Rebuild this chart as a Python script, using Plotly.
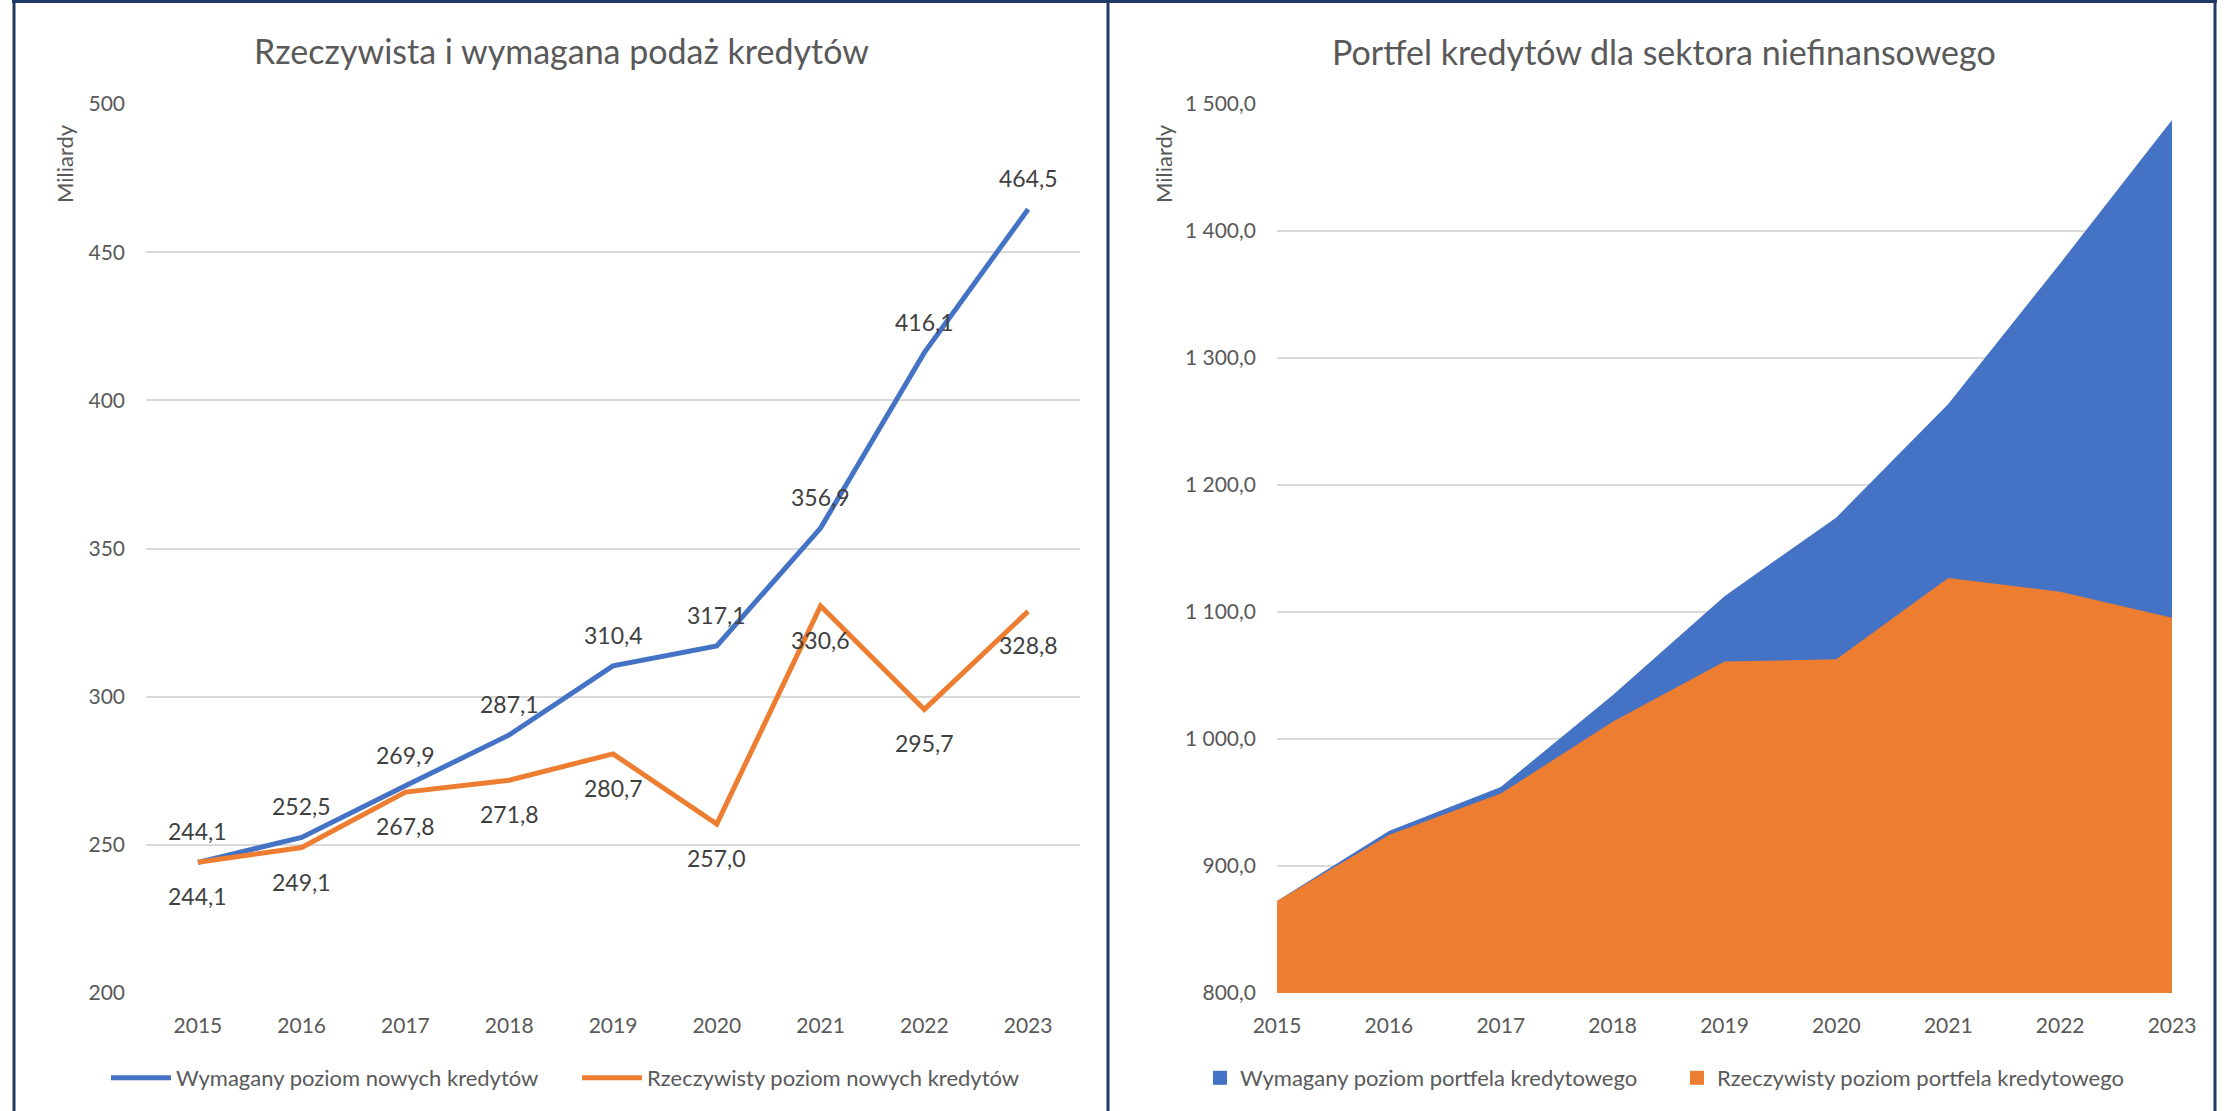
import plotly.graph_objects as go

W, H = 2238, 1111

years = [2015, 2016, 2017, 2018, 2019, 2020, 2021, 2022, 2023]

# Left chart: new loans (billions)
required_new = [244.1, 252.5, 269.9, 287.1, 310.4, 317.1, 356.9, 416.1, 464.5]
actual_new = [244.1, 249.1, 267.8, 271.8, 280.7, 257.0, 330.6, 295.7, 328.8]

# Right chart: loan portfolio (billions)
required_portfolio = [872.4, 927.5, 962.2, 1034.5, 1112.5, 1174.5, 1263.8, 1374.5, 1487.5]
actual_portfolio = [872.4, 924.4, 957.0, 1013.5, 1061.0, 1062.7, 1126.8, 1116.0, 1095.5]

left_yticks = [200, 250, 300, 350, 400, 450, 500]
right_yticks = [800, 900, 1000, 1100, 1200, 1300, 1400, 1500]
right_yticklabels = ["800,0", "900,0", "1 000,0", "1 100,0", "1 200,0", "1 300,0", "1 400,0", "1 500,0"]

title_left = "Rzeczywista i wymagana podaż kredytów"
title_right = "Portfel kredytów dla sektora niefinansowego"
name_req_new = "Wymagany poziom nowych kredytów"
name_act_new = "Rzeczywisty poziom nowych kredytów"
name_req_port = "Wymagany poziom portfela kredytowego"
name_act_port = "Rzeczywisty poziom portfela kredytowego"

BLUE = "#4472C4"
ORANGE = "#ED7D31"
TXT = "#595959"
LBL = "#404040"
GRID = "#D9D9D9"
NAVY = "#1F3864"
FONT = "Lato"

def px(x):
    return x / W

def py(y):
    return 1 - y / H

fig = go.Figure()

# Left chart lines
fig.add_trace(go.Scatter(x=years, y=required_new, mode="lines", name=name_req_new,
                         line=dict(color=BLUE, width=5), xaxis="x", yaxis="y", legend="legend"))
fig.add_trace(go.Scatter(x=years, y=actual_new, mode="lines", name=name_act_new,
                         line=dict(color=ORANGE, width=5), xaxis="x", yaxis="y", legend="legend2"))

# Right chart areas (overlapping, not stacked)
fig.add_trace(go.Scatter(x=years, y=required_portfolio, mode="lines", name=name_req_port,
                         fill="tozeroy", fillcolor=BLUE, line=dict(color=BLUE, width=0),
                         xaxis="x2", yaxis="y2", showlegend=False))
fig.add_trace(go.Scatter(x=years, y=actual_portfolio, mode="lines", name=name_act_port,
                         fill="tozeroy", fillcolor=ORANGE, line=dict(color=ORANGE, width=0),
                         xaxis="x2", yaxis="y2", showlegend=False))
# Legend entries for areas (square symbols)
fig.add_trace(go.Scatter(x=[None], y=[None], mode="markers", name=name_req_port,
                         marker=dict(symbol="square", size=14, color=BLUE),
                         xaxis="x2", yaxis="y2", legend="legend3"))
fig.add_trace(go.Scatter(x=[None], y=[None], mode="markers", name=name_act_port,
                         marker=dict(symbol="square", size=14, color=ORANGE),
                         xaxis="x2", yaxis="y2", legend="legend4"))

def fmt(v):
    return f"{v:.1f}".replace(".", ",")

annotations = []
for xv, yv in zip(years, required_new):
    annotations.append(dict(x=xv, y=yv, xref="x", yref="y", text=fmt(yv), showarrow=False,
                            yshift=31, font=dict(family=FONT, size=23, color=LBL)))
for xv, yv in zip(years, actual_new):
    annotations.append(dict(x=xv, y=yv, xref="x", yref="y", text=fmt(yv), showarrow=False,
                            yshift=-34, font=dict(family=FONT, size=23, color=LBL)))

annotations += [
    dict(x=px(561), y=py(50), xref="paper", yref="paper", text=title_left, showarrow=False,
         font=dict(family=FONT, size=34, color=TXT), xanchor="center", yanchor="middle"),
    dict(x=px(1664), y=py(52), xref="paper", yref="paper", text=title_right, showarrow=False,
         font=dict(family=FONT, size=34, color=TXT), xanchor="center", yanchor="middle"),
    dict(x=px(64), y=py(164), xref="paper", yref="paper", text="Miliardy", showarrow=False,
         textangle=-90, font=dict(family=FONT, size=22, color=TXT), xanchor="center", yanchor="middle"),
    dict(x=px(1163), y=py(164), xref="paper", yref="paper", text="Miliardy", showarrow=False,
         textangle=-90, font=dict(family=FONT, size=22, color=TXT), xanchor="center", yanchor="middle"),
]

shapes = [
    dict(type="line", xref="paper", yref="paper", x0=px(12), x1=px(2217), y0=py(1.5), y1=py(1.5),
         line=dict(color=NAVY, width=3)),
    dict(type="line", xref="paper", yref="paper", x0=px(14), x1=px(14), y0=0, y1=py(1),
         line=dict(color=NAVY, width=3)),
    dict(type="line", xref="paper", yref="paper", x0=px(1108), x1=px(1108), y0=0, y1=py(1),
         line=dict(color=NAVY, width=3)),
    dict(type="line", xref="paper", yref="paper", x0=px(2215), x1=px(2215), y0=0, y1=py(1),
         line=dict(color=NAVY, width=3)),
]

tickfont = dict(family=FONT, size=21, color=TXT)
ydom = [py(993), py(104)]

leg_common = dict(orientation="h", bgcolor="rgba(0,0,0,0)", borderwidth=0,
                  font=dict(family=FONT, size=22, color=TXT), xanchor="left", yanchor="middle")

axis_common = dict(zeroline=False, showline=False, ticks="", tickfont=tickfont, automargin=False,
                   fixedrange=True)

fig.update_layout(
    template="none",
    width=W, height=H,
    margin=dict(l=0, r=0, t=0, b=0, pad=0, autoexpand=False),
    paper_bgcolor="white", plot_bgcolor="white",
    font=dict(family=FONT, color=TXT),
    xaxis=dict(domain=[px(146), px(1080)], range=[2014.5, 2023.5], tickvals=years,
               showgrid=False, ticklabelstandoff=18, anchor="y", **axis_common),
    yaxis=dict(domain=ydom, range=[200, 500], tickvals=left_yticks, showgrid=True,
               gridcolor=GRID, gridwidth=2, ticklabelstandoff=20, anchor="x", **axis_common),
    xaxis2=dict(domain=[px(1277), px(2172)], range=[2015, 2023], tickvals=years,
                showgrid=False, ticklabelstandoff=18, anchor="y2", **axis_common),
    yaxis2=dict(domain=ydom, range=[800, 1500], tickvals=right_yticks, ticktext=right_yticklabels,
                showgrid=True, gridcolor=GRID, gridwidth=2, ticklabelstandoff=20, anchor="x2",
                **axis_common),
    legend=dict(x=px(106), y=py(1078), itemwidth=60, **leg_common),
    legend2=dict(x=px(577), y=py(1078), itemwidth=60, **leg_common),
    legend3=dict(x=px(1200), y=py(1078), itemwidth=30, **leg_common),
    legend4=dict(x=px(1677), y=py(1078), itemwidth=30, **leg_common),
    annotations=annotations,
    shapes=shapes,
    showlegend=True,
)

fig.write_html("out.html", config={"displayModeBar": False},
               post_script="document.body.style.margin='0';document.body.style.overflow='hidden';")
